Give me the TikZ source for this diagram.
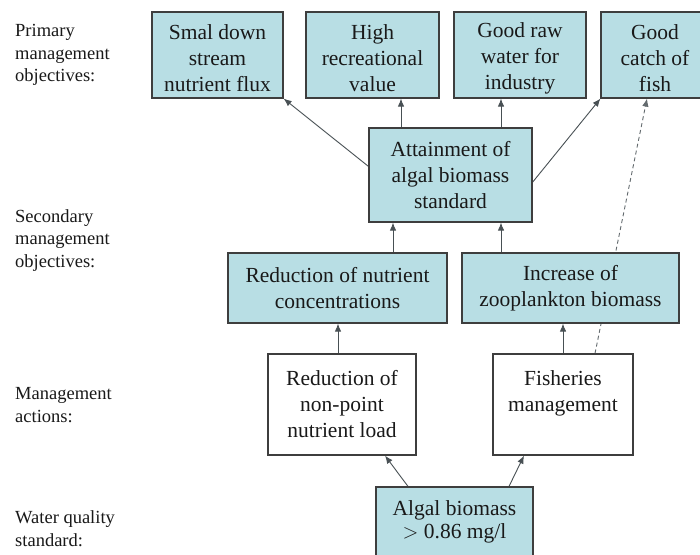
\documentclass[tikz,border=0pt]{standalone}
\usepackage{fontspec}
\setmainfont{Liberation Serif}
\usetikzlibrary{arrows.meta}
\pgfdeclarelayer{background}
\pgfsetlayers{background,main}
\definecolor{boxfill}{RGB}{184,222,228}
\definecolor{boxline}{RGB}{62,62,62}
\definecolor{linkgray}{RGB}{72,80,84}
\definecolor{inkgray}{RGB}{25,25,25}
% extra room above the first line of the top row of boxes
\newcommand\firstpad{\rule{0pt}{21pt}}
\begin{document}
\begin{tikzpicture}[x=1pt,y=-1pt,
  box/.style={draw=boxline, line width=1.2pt, align=center, inner sep=0pt,
    text=inkgray, font=\fontsize{21.5}{26}\selectfont},
  bluebox/.style={box, fill=boxfill},
  whitebox/.style={box, fill=white},
  toprow/.style={bluebox, minimum height=86},
  level/.style={anchor=north west, align=left, inner sep=0pt, text=inkgray,
    font=\fontsize{18.5}{22.5}\selectfont},
  link/.style={draw=linkgray, line width=0.9pt, -{Latex[length=8pt,width=6.5pt]}},
  hint/.style={link, dash pattern=on 4pt off 3pt, draw=linkgray!85}]
\useasboundingbox (0,0) rectangle (700,554);
\clip (0,0) rectangle (700,554);

% row labels
\node[level] (lvlA) at (15,24.2) {Primary\\management\\objectives:};
\node[level] (lvlB) at (15,209.2) {Secondary\\management\\objectives:};
\node[level] (lvlC) at (15,387.2) {Management\\actions:};
\node[level] (lvlD) at (15,510.8) {Water quality\\standard:};

% primary objectives
\node[toprow, minimum width=131] (flux) at (217.5,55) {\firstpad Smal down\\stream\\nutrient flux};
\node[toprow, minimum width=133] (recr) at (372.5,55) {\firstpad High\\recreational\\value};
\node[toprow, minimum width=132] (indu) at (520,55) {\firstpad Good raw\\water for\\industry};
\node[toprow, minimum width=108] (fish) at (655,55) {\firstpad Good\\catch of\\fish};

% secondary objectives
\node[bluebox, minimum width=163, minimum height=94] (algstd) at (450.5,175) {Attainment of\\algal biomass\\standard};
\node[bluebox, minimum width=219, minimum height=70] (nutr) at (337.5,288) {Reduction of nutrient\\concentrations};
\node[bluebox, minimum width=217, minimum height=70] (zoo) at (570.5,288) {Increase of\\zooplankton biomass};

% management actions
\node[whitebox, minimum width=148, minimum height=101] (nonpt) at (342,404.5) {Reduction of\\non-point\\nutrient load};
\node[whitebox, minimum width=140, minimum height=101] (fishery) at (563,404.5) {Fisheries\\management\\~};

% water quality standard
\node[bluebox, minimum width=157, minimum height=69, font=\fontsize{21.5}{23}\selectfont] (algal) at (454.5,521.5) {Algal biomass\\$>$ 0.86 mg/l};

% x positions of the straight links
\coordinate (xRecr) at (401,0);
\coordinate (xIndu) at (501,0);
\coordinate (xNutr) at (393,0);
\coordinate (xZoo) at (501,0);
\coordinate (xNonpt) at (338,0);
\coordinate (xFishery) at (563,0);
\coordinate (xHintA) at (595,0);
\coordinate (xHintB) at (647,0);
\coordinate (xAlgL) at (408,0);
\coordinate (xNonptIn) at (385,0);
\coordinate (xAlgR) at (509,0);
\coordinate (xFisheryIn) at (524,0);

\begin{pgfonlayer}{background}
  \fill[white] (0,0) rectangle (700,554);
  \draw[link] (algstd.174) -- (flux.south east);
  \draw[link] (algstd.north -| xRecr) -- (recr.south -| xRecr);
  \draw[link] (algstd.north -| xIndu) -- (indu.south -| xIndu);
  \draw[link] (algstd.-5) -- (fish.south west);
  \draw[link] (nutr.north -| xNutr) -- (algstd.south -| xNutr);
  \draw[link] (zoo.north -| xZoo) -- (algstd.south -| xZoo);
  \draw[link] (nonpt.north -| xNonpt) -- (nutr.south -| xNonpt);
  \draw[link] (fishery.north -| xFishery) -- (zoo.south -| xFishery);
  \draw[hint] (fishery.north -| xHintA) -- (fish.south -| xHintB);
  \draw[link] (algal.north -| xAlgL) -- (nonpt.south -| xNonptIn);
  \draw[link] (algal.north -| xAlgR) -- (fishery.south -| xFisheryIn);
\end{pgfonlayer}
\end{tikzpicture}
\end{document}
